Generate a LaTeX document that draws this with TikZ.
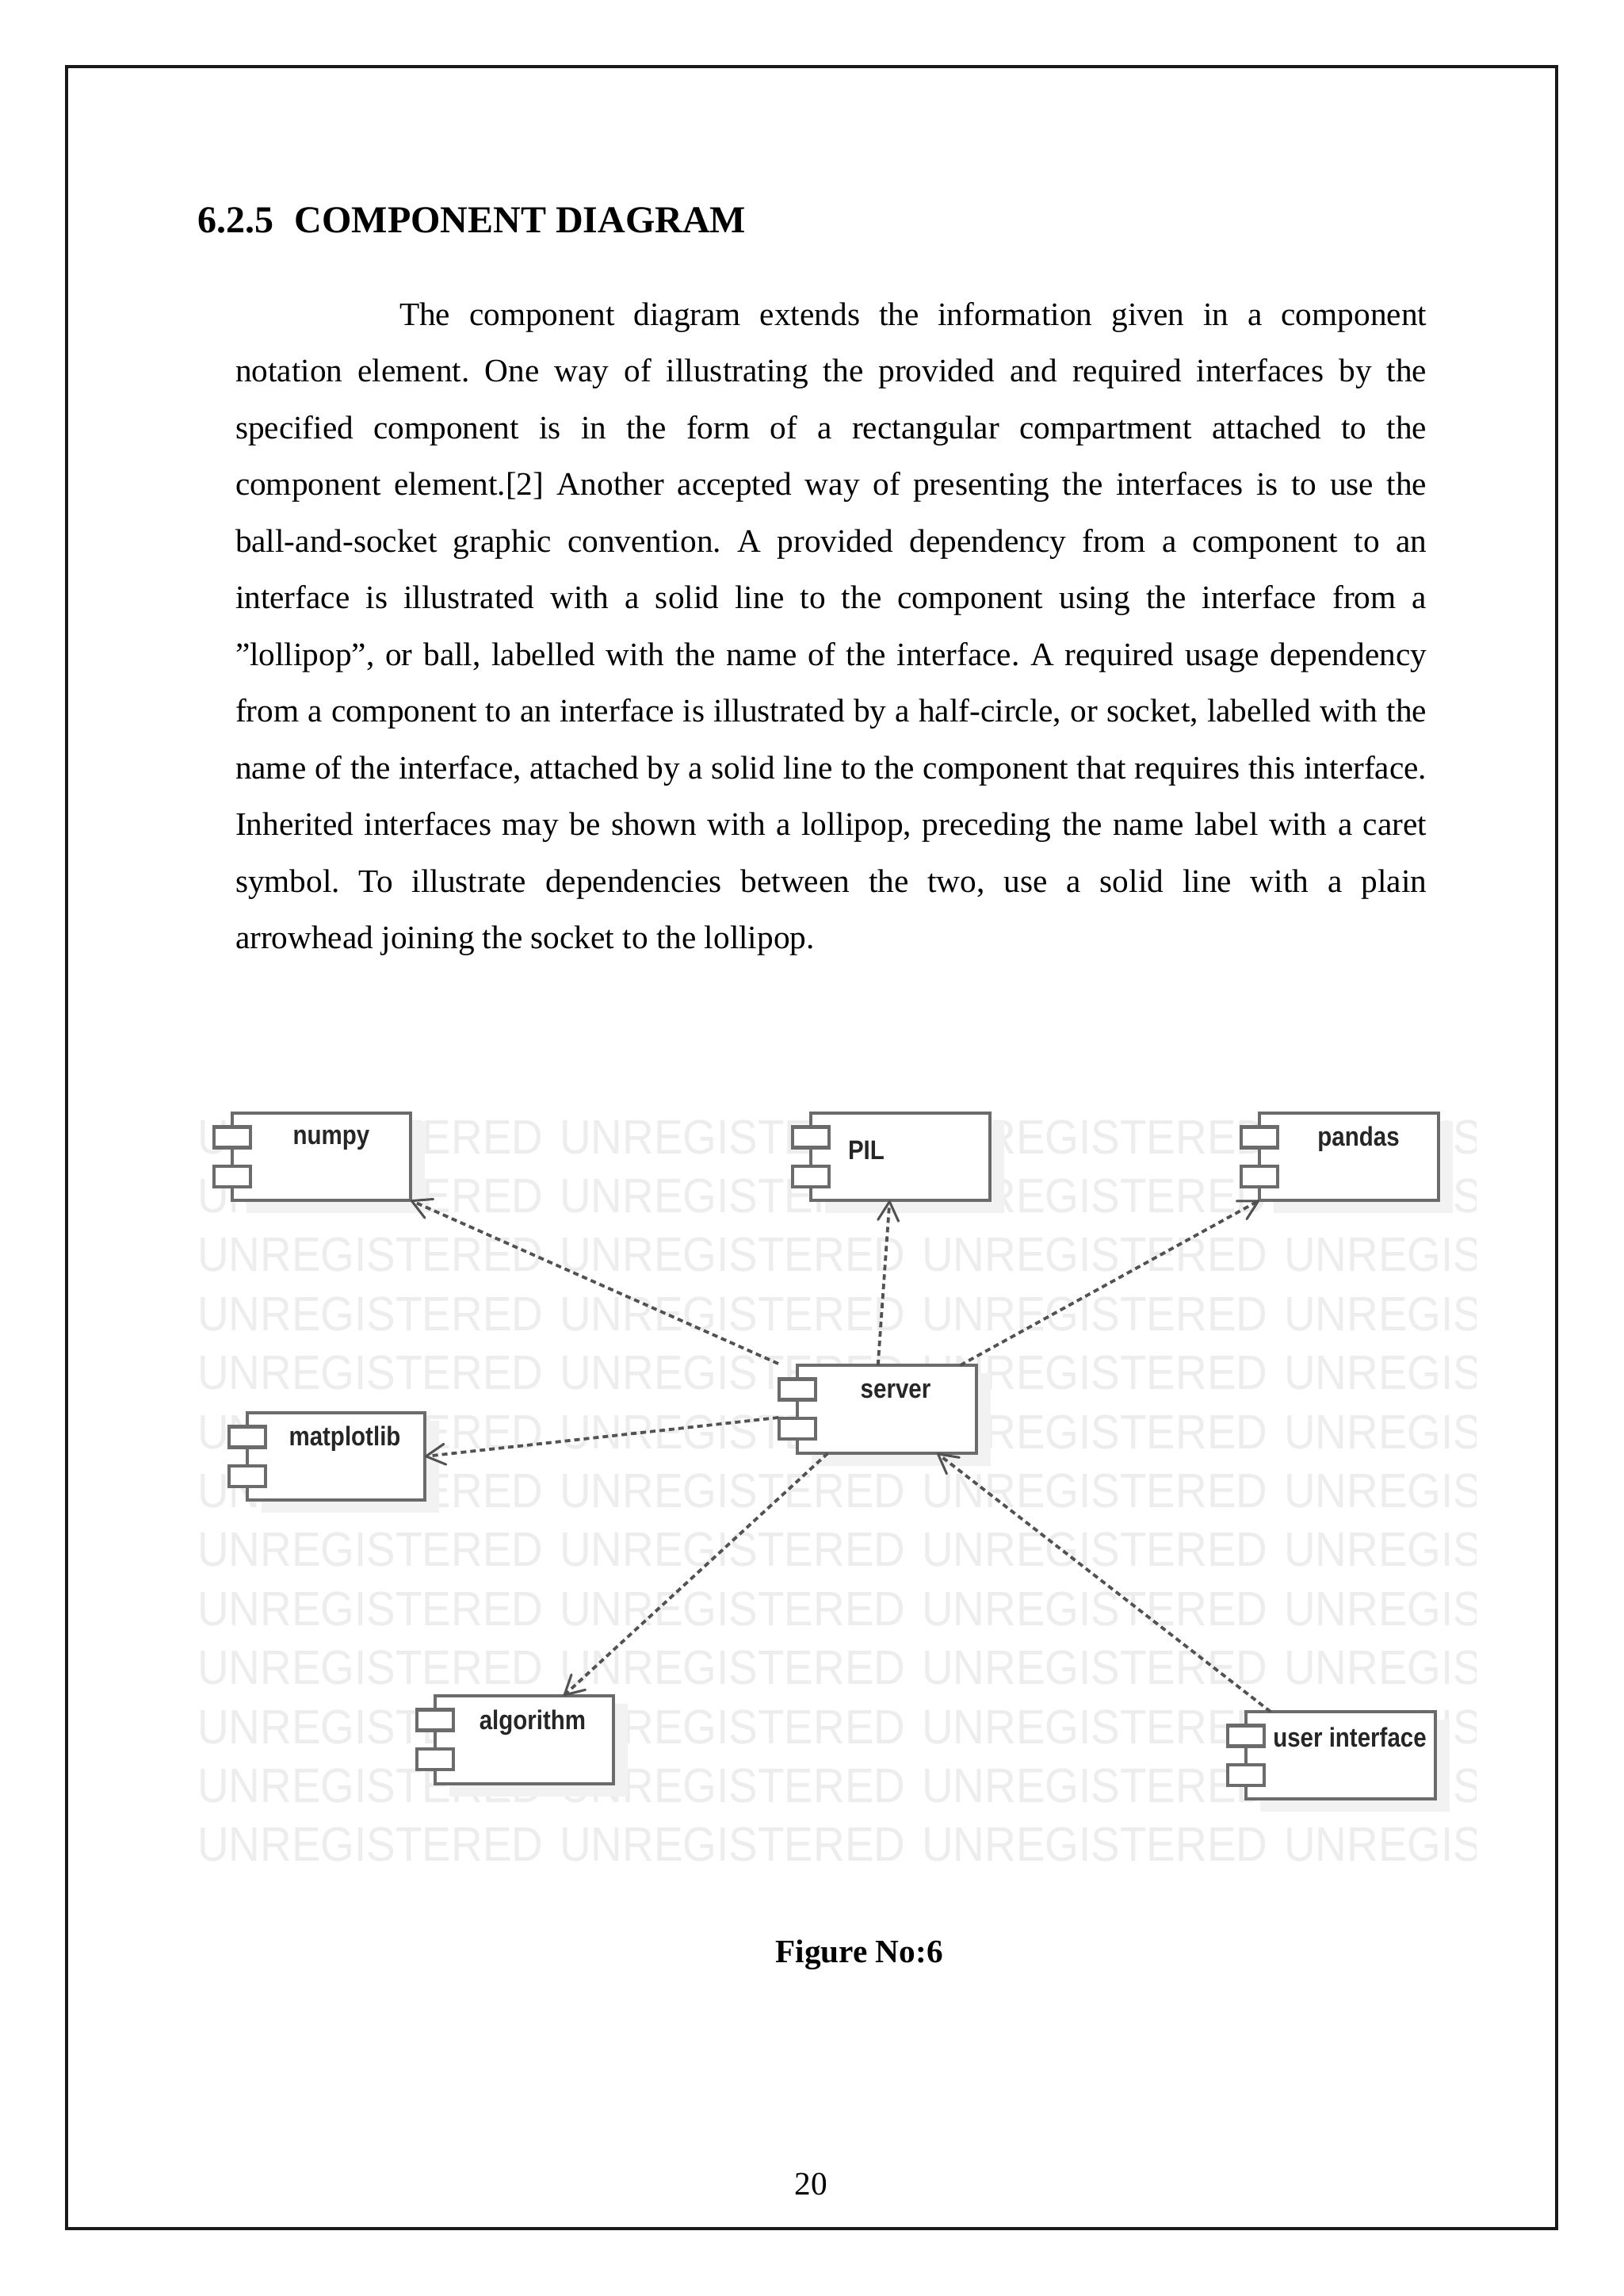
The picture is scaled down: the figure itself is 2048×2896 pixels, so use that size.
\documentclass[tikz,border=0pt]{standalone}
\usepackage{fontspec}
\setmainfont{Liberation Serif}
\newfontfamily\labelfont{Liberation Sans}
\usetikzlibrary{arrows.meta,calc}
\definecolor{compline}{gray}{0.42}
\definecolor{wmark}{gray}{0.93}
\definecolor{ghost}{gray}{0.95}
\tikzset{
  x=1pt,y=-1pt,
  compbody/.style={draw=compline,line width=4.5pt,fill=white,rectangle,inner sep=0pt,outer sep=0pt},
  compport/.style={draw=compline,line width=4.5pt,fill=white,rectangle,inner sep=0pt,outer sep=0pt,minimum width=46pt,minimum height=26pt},
  complabel/.style={font=\labelfont\bfseries\fontsize{29.5}{32}\selectfont,text=black!85,inner sep=0pt,yscale=1.15,transform shape},
  dep/.style={draw=black!68,line width=3.8pt,dash pattern=on 7pt off 5pt,
     -{Straight Barb[length=24pt,width=26pt,line width=3pt,round]}},
  wm/.style={font=\labelfont\fontsize{61}{61}\selectfont,text=wmark,anchor=west,inner sep=0pt,xscale=0.90,transform shape},
  pagetext/.style={inner sep=0pt,outer sep=0pt}
}
\newcommand{\comp}[8]{% name,left,top,width,height,label,labelx,labely
  \pgfmathsetmacro{\cx}{#2+#4/2}\pgfmathsetmacro{\cy}{#3+#5/2}
  \fill[ghost] (#2+18,#3+10) rectangle (#2+#4+18,#3+#5+16);
  \node[compbody,minimum width=#4pt,minimum height=#5pt] (#1) at (\cx,\cy) {};
  \node[compport] (#1p1) at (#2,#3+30.5) {};
  \node[compport] (#1p2) at (#2,#3+80) {};
  \node[complabel] (#1lab) at (#7,#8) {#6};
}
\begin{document}
\begin{tikzpicture}
\useasboundingbox (0,0) rectangle (2048,2896);
\fill[white] (0,0) rectangle (2048,2896);
\draw[black!90,line width=3.5pt] (84,84) rectangle (1964,2811);
% watermark
\begin{scope}
\clip (249,1390) rectangle (1862,2370);
\foreach \r in {0,...,12}{
  \foreach \c in {0,...,3}{
    \node[wm] at (249+457*\c,1434+74.4*\r) {UNREGISTERED};
  }
}
\end{scope}
\node[pagetext,anchor=base west,font=\bfseries\fontsize{48}{48}\selectfont] (head) at (249,293) {6.2.5\hspace{27pt}COMPONENT DIAGRAM};
\node[pagetext,anchor=north west,text width=1503pt,align=justify,font=\fontsize{41.3}{71.5}\selectfont] (body) at (297,381) {%
\frenchspacing\spaceskip=.25em plus 2em minus .2em\relax
\hspace*{207pt}The component diagram extends the information given in a component\linebreak
notation element. One way of illustrating the provided and required interfaces by the\linebreak
specified component is in the form of a rectangular compartment attached to the\linebreak
component element.[2] Another accepted way of presenting the interfaces is to use the\linebreak
ball-and-socket graphic convention. A provided dependency from a component to an\linebreak
interface is illustrated with a solid line to the component using the interface from a\linebreak
\symbol{34}lollipop\symbol{34}, or ball, labelled with the name of the interface. A required usage dependency\linebreak
from a component to an interface is illustrated by a half-circle, or socket, labelled with the\linebreak
name of the interface, attached by a solid line to the component that requires this interface.\linebreak
Inherited interfaces may be shown with a lollipop, preceding the name label with a caret\linebreak
symbol. To illustrate dependencies between the two, use a solid line with a plain\linebreak
arrowhead joining the socket to the lollipop.};
% components
\comp{numpy}{293}{1404}{225}{110}{numpy}{418}{1438}
\comp{pil}{1023}{1404}{226}{110}{PIL}{1093}{1451}
\comp{pandas}{1589}{1404}{226}{110}{pandas}{1714}{1437}
\comp{server}{1006}{1722}{226}{111}{server}{1130}{1755}
\comp{matplotlib}{312}{1782}{224}{110}{matplotlib}{435}{1815}
\comp{algorithm}{549}{2139}{225}{111}{algorithm}{672}{2173}
\comp{ui}{1572}{2159}{239}{110}{user interface}{1703}{2191}
% connectors
\coordinate (snw) at (982,1720);
\coordinate (swest) at (982,1788);
\draw[dep] (snw) -- (numpy.south east);
\draw[dep] ($(server.north west)!0.45!(server.north east)$) -- ($(pil.south west)!0.44!(pil.south east)$);
\draw[dep] ($(server.north west)!0.91!(server.north east)$) -- (pandas.south west);
\draw[dep] (swest) -- (matplotlib.east);
\draw[dep] ($(server.south west)!0.17!(server.south east)$) -- ($(algorithm.north west)!0.72!(algorithm.north east)$);
\draw[dep] ($(ui.north west)!0.13!(ui.north east)$) -- ($(server.south west)!0.78!(server.south east)$);
\node[pagetext,anchor=base,font=\bfseries\fontsize{41.3}{48}\selectfont] (fig) at (1084,2475) {Figure No:6};
\node[pagetext,anchor=base,font=\fontsize{41.3}{48}\selectfont] (pageno) at (1023,2768) {20};
\end{tikzpicture}
\end{document}
